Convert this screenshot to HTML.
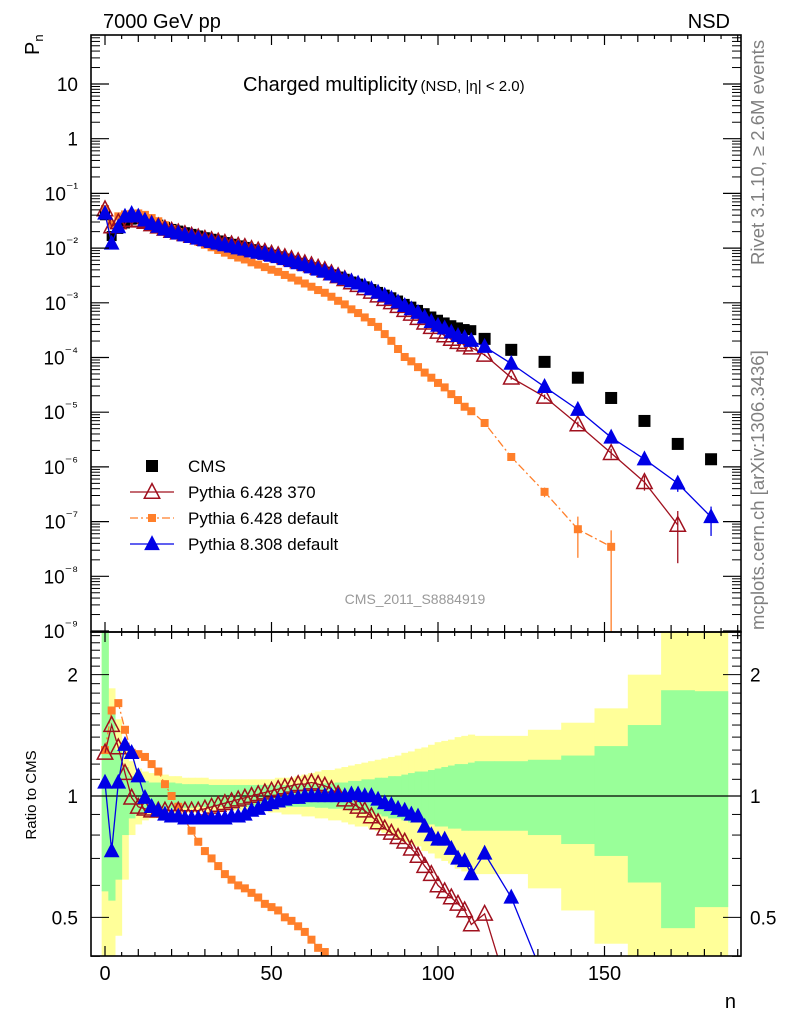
<!DOCTYPE html>
<html><head><meta charset="utf-8"><style>
html,body{margin:0;padding:0;background:#fff;width:786px;height:1024px;overflow:hidden;}
svg{display:block;font-family:"Liberation Sans",sans-serif;}
</style></head><body>
<svg id="chart" width="786" height="1024" viewBox="0 0 786 1024" xmlns="http://www.w3.org/2000/svg">
<defs>
<clipPath id="cm"><rect x="91" y="35" width="650" height="597"/></clipPath>
<clipPath id="cr"><rect x="91" y="632" width="650" height="324"/></clipPath>
</defs>
<g id="bands" clip-path="url(#cr)"></g>
<g id="ratio" clip-path="url(#cr)"></g>
<g id="main" clip-path="url(#cm)"></g>
<g id="axes"></g>
<text x="103" y="28" font-size="20">7000 GeV pp</text>
<text x="730" y="28" font-size="20" text-anchor="end">NSD</text>
<text transform="translate(39,55) rotate(-90)" font-size="20">P<tspan font-size="13" dy="4">n</tspan></text>
<text x="243" y="91" font-size="20">Charged multiplicity<tspan font-size="15" dx="3">(NSD, |η| &lt; 2.0)</tspan></text>
<text transform="translate(764,265) rotate(-90)" font-size="18.5" fill="#808080">Rivet 3.1.10, ≥ 2.6M events</text>
<text transform="translate(764,630) rotate(-90)" font-size="18.5" fill="#808080">mcplots.cern.ch [arXiv:1306.3436]</text>
<text x="415" y="604" font-size="14" fill="#999" text-anchor="middle">CMS_2011_S8884919</text>
<text transform="translate(36,795) rotate(-90)" font-size="15" text-anchor="middle">Ratio to CMS</text>
<text x="736" y="1008" font-size="20" text-anchor="end">n</text>
<g id="legend"></g>
</svg>
<script>
const nVals=[0,2,4,6,8,10,12,14,16,18,20,22,24,26,28,30,32,34,36,38,40,42,44,46,48,50,52,54,56,58,60,62,64,66,68,70,72,74,76,78,80,82,84,86,88,90,92,94,96,98,100,102,104,106,108,110,114,122,132,142,152,162,172,182];
const binEdges=[111,117,127,137,147,157,167,177,187];
const cmsPn=[3.98e-2,1.66e-2,2.24e-2,2.82e-2,3.31e-2,3.39e-2,3.24e-2,2.95e-2,2.69e-2,2.45e-2,2.24e-2,2.09e-2,1.95e-2,1.82e-2,1.70e-2,1.58e-2,1.48e-2,1.38e-2,1.29e-2,1.20e-2,1.12e-2,1.05e-2,9.55e-3,8.91e-3,8.32e-3,7.59e-3,7.08e-3,6.46e-3,5.89e-3,5.37e-3,4.90e-3,4.47e-3,4.07e-3,3.72e-3,3.31e-3,3.02e-3,2.75e-3,2.45e-3,2.24e-3,2.00e-3,1.78e-3,1.58e-3,1.41e-3,1.26e-3,1.10e-3,9.55e-4,8.51e-4,7.41e-4,6.46e-4,5.62e-4,4.90e-4,4.37e-4,3.89e-4,3.55e-4,3.31e-4,3.16e-4,2.19e-4,1.38e-4,8.32e-5,4.27e-5,1.82e-5,6.92e-6,2.63e-6,1.38e-6];
const ratioPy6370=[1.28,1.50,1.32,1.14,0.99,0.94,0.93,0.92,0.92,0.92,0.92,0.92,0.92,0.92,0.92,0.93,0.94,0.95,0.96,0.97,0.98,0.99,1.0,1.01,1.02,1.03,1.04,1.05,1.06,1.07,1.07,1.08,1.07,1.06,1.04,1.01,0.98,0.96,0.94,0.92,0.89,0.86,0.83,0.81,0.79,0.77,0.74,0.71,0.67,0.64,0.60,0.58,0.56,0.54,0.52,0.48,0.51,0.31,0.23,0.14,0.098,0.076,0.033,null];
const ratioPy6def=[1.30,1.63,1.70,1.46,1.28,1.27,1.25,1.20,1.15,1.07,1.0,0.94,0.87,0.82,0.77,0.73,0.70,0.67,0.64,0.62,0.60,0.59,0.575,0.56,0.54,0.53,0.52,0.50,0.49,0.475,0.46,0.44,0.42,0.41,0.39,0.36,0.34,0.31,0.29,0.27,0.25,0.23,0.19,0.16,0.13,0.107,0.10,0.09,0.082,0.076,0.07,0.065,0.055,0.047,0.038,0.033,0.029,0.011,0.0042,0.0017,0.0019,null,null,null];
const ratioPy8def=[1.08,0.73,1.08,1.34,1.28,1.12,0.99,0.94,0.92,0.90,0.89,0.89,0.88,0.88,0.88,0.88,0.88,0.88,0.88,0.89,0.89,0.90,0.92,0.93,0.95,0.96,0.97,0.98,0.99,0.99,1.0,1.0,1.0,1.0,1.0,1.0,1.0,1.01,1.01,1.0,1.0,0.98,0.96,0.95,0.93,0.92,0.90,0.89,0.84,0.80,0.78,0.78,0.74,0.70,0.69,0.64,0.72,0.56,0.35,0.26,0.19,0.20,0.19,0.088];
const errPy6370=[0.05,0.08,0.1,0.12,0.2,0.3,0.8];
const errPy6def=[0.08,0.15,0.2,0.7,1.0];
const errPy8def=[0.05,0.07,0.1,0.12,0.15,0.2,0.3,0.55];
const greenUp=[2.55,1.6,1.3,1.18,1.12,1.10,1.09,1.08,1.08,1.08,1.08,1.075,1.07,1.07,1.07,1.07,1.065,1.065,1.065,1.065,1.065,1.065,1.065,1.065,1.065,1.065,1.065,1.065,1.065,1.07,1.07,1.07,1.07,1.075,1.075,1.08,1.08,1.09,1.09,1.10,1.10,1.11,1.11,1.12,1.12,1.13,1.14,1.15,1.15,1.16,1.17,1.18,1.19,1.20,1.20,1.21,1.22,1.22,1.23,1.26,1.33,1.50,1.83,1.82];
const greenLo=[0.58,0.55,0.62,0.80,0.88,0.90,0.91,0.92,0.93,0.93,0.93,0.93,0.935,0.935,0.94,0.94,0.94,0.94,0.94,0.94,0.94,0.94,0.94,0.94,0.94,0.94,0.94,0.94,0.94,0.94,0.94,0.94,0.935,0.935,0.93,0.93,0.93,0.92,0.92,0.91,0.91,0.90,0.89,0.88,0.88,0.87,0.86,0.86,0.85,0.85,0.84,0.84,0.83,0.83,0.82,0.82,0.82,0.82,0.80,0.76,0.71,0.61,0.47,0.53];
const yellowUp=[2.55,1.85,1.55,1.35,1.22,1.17,1.15,1.14,1.13,1.13,1.12,1.12,1.11,1.11,1.11,1.11,1.10,1.10,1.10,1.10,1.10,1.10,1.10,1.10,1.10,1.10,1.11,1.11,1.11,1.12,1.13,1.14,1.15,1.16,1.16,1.17,1.18,1.19,1.20,1.21,1.22,1.23,1.24,1.25,1.26,1.28,1.29,1.31,1.32,1.34,1.36,1.37,1.38,1.40,1.41,1.42,1.41,1.41,1.46,1.52,1.65,2.0,3,3];
const yellowLo=[0.35,0.35,0.45,0.62,0.80,0.85,0.87,0.88,0.89,0.90,0.90,0.90,0.91,0.91,0.91,0.91,0.91,0.91,0.92,0.92,0.92,0.92,0.92,0.92,0.92,0.91,0.91,0.90,0.90,0.90,0.89,0.89,0.88,0.88,0.87,0.87,0.86,0.85,0.84,0.84,0.83,0.82,0.81,0.80,0.78,0.77,0.76,0.75,0.73,0.72,0.70,0.69,0.68,0.66,0.65,0.64,0.64,0.64,0.59,0.52,0.43,0.30,0.30,0.30];
const decadeLabels=["10","1","10⁻¹","10⁻²","10⁻³","10⁻⁴","10⁻⁵","10⁻⁶","10⁻⁷","10⁻⁸","10⁻⁹"];
const xTickLabels=[0,50,100,150];
const ratioTickLabels=[2,1,0.5];

const NS="http://www.w3.org/2000/svg";
const X=n=>105+n*3.33;
const YM=p=>84+(1-Math.log10(p))*54.7;
const YR=r=>796-403*Math.log10(r);
function mk(parent,tag,attrs){const e=document.createElementNS(NS,tag);for(const k in attrs)e.setAttribute(k,attrs[k]);parent.appendChild(e);return e;}
const gM=document.getElementById('main'),gR=document.getElementById('ratio'),gB=document.getElementById('bands'),gA=document.getElementById('axes'),gL=document.getElementById('legend');
const nDense=nVals.length-8;
function binLo(i){return i<nDense?nVals[i]-1:binEdges[i-nDense];}
function binHi(i){return i<nDense?nVals[i]+1:binEdges[i-nDense+1];}

[[yellowUp,yellowLo,'#ffff99','yellow-band'],[greenUp,greenLo,'#99ff99','green-band']].forEach(([u,l,c,nm])=>{
  for(let i=0;i<nVals.length;i++){
    const y1=YR(Math.min(u[i],3)),y2=YR(Math.max(l[i],0.3));
    const r=mk(gB,'rect',{x:X(binLo(i)),y:y1,width:X(binHi(i))-X(binLo(i))+0.5,height:y2-y1,fill:c});
    
    
  }
});
const ref=mk(gR,'line',{x1:91,x2:741,y1:YR(1),y2:YR(1),stroke:'#000','stroke-width':1.2});



function tri(g,x,y,s,color,filled,nm){
  const p=mk(g,'polygon',{points:`${x},${y-s*0.6} ${x-s*0.55},${y+s*0.45} ${x+s*0.55},${y+s*0.45}`,fill:filled?color:'none',stroke:color,'stroke-width':1.5});
  
  
}
function sq(g,x,y,s,color,nm){
  const r=mk(g,'rect',{x:x-s/2,y:y-s/2,width:s,height:s,fill:color});
  
  
}
const series=[
 {r:ratioPy6def,c:'#ff7f2a',type:'sq',dash:'8,3,2,3',err:errPy6def,nm:'pythia6-default'},
 {r:ratioPy6370,c:'#a0101e',type:'otri',dash:null,err:errPy6370,nm:'pythia6-370'},
 {r:ratioPy8def,c:'#0000e6',type:'tri',dash:null,err:errPy8def,nm:'pythia8-default'}
];
for(let i=0;i<nVals.length;i++){sq(gM,X(nVals[i]),YM(cmsPn[i]),i<nDense?10:12,'#000','cms-point');}
series.forEach(s=>{
  let ptsM=[],ptsR=[];
  for(let i=0;i<nVals.length;i++){if(s.r[i]==null)continue;ptsM.push([X(nVals[i]),YM(cmsPn[i]*s.r[i])]);ptsR.push([X(nVals[i]),YR(s.r[i])]);}
  [[gM,ptsM,'main'],[gR,ptsR,'ratio']].forEach(([g,pts,w])=>{
    const pl=mk(g,'polyline',{points:pts.map(p=>p.join(',')).join(' '),fill:'none',stroke:s.c,'stroke-width':1.3});
    if(s.dash)pl.setAttribute('stroke-dasharray',s.dash);
    
    
  });
  let k=0;
  for(let i=nDense;i<nVals.length;i++){if(s.r[i]==null)continue;const p=cmsPn[i]*s.r[i],e=s.err[k++];
    const lo=p*(1-e)>0?YM(p*(1-e)):640;
    const el=mk(gM,'line',{x1:X(nVals[i]),x2:X(nVals[i]),y1:YM(p*(1+e)),y2:lo,stroke:s.c,'stroke-width':1.3});
    
    
  }
  for(let i=0;i<nVals.length;i++){if(s.r[i]==null)continue;
    [[gM,YM(cmsPn[i]*s.r[i])],[gR,YR(s.r[i])]].forEach(([g,y])=>{
      const x=X(nVals[i]);
      if(s.type==='sq')sq(g,x,y,8,s.c,s.nm+'-point');
      else tri(g,x,y,s.type==='tri'?12:14,s.c,s.type==='tri',s.nm+'-point');
    });
  }
});

[[35,597],[632,324]].forEach(([y,h],j)=>{const r=mk(gA,'rect',{x:91,y:y,width:650,height:h,fill:'none',stroke:'#000','stroke-width':1.6});
 
 });
for(let v=-0;v<=190;v+=5){const x=X(v),maj=v%50===0,mid=v%10===0;
  [[35,1],[632,-1],[632,1],[956,-1]].forEach(([y0,d])=>{const L=maj?10:(mid?7:4);
    mk(gA,'line',{x1:x,x2:x,y1:y0,y2:y0+d*L,stroke:'#000','stroke-width':1.2});});
}
xTickLabels.forEach(v=>{const t=mk(gA,'text',{x:X(v),y:980,'font-size':20,'text-anchor':'middle'});t.textContent=v;
 
 });
decadeLabels.forEach((lab,j)=>{const dec=1-j;const y=YM(Math.pow(10,dec));
  [[91,1],[741,-1]].forEach(([x0,d])=>mk(gA,'line',{x1:x0,x2:x0+d*18,y1:y,y2:y,stroke:'#000','stroke-width':1.2}));
  const t=mk(gA,'text',{x:78,y:y+7,'font-size':19,'text-anchor':'end'});
  if(lab.length>2&&lab!=="10"){t.textContent='10';const ts=mk(t,'tspan',{dy:-8,'font-size':14});ts.textContent=lab.slice(2);}else t.textContent=lab;
  
  
});
for(let dec=-10;dec<=1;dec++)for(let m=2;m<=9;m++){const y=YM(m*Math.pow(10,dec));if(y<35||y>632)continue;
  [[91,1],[741,-1]].forEach(([x0,d])=>mk(gA,'line',{x1:x0,x2:x0+d*9,y1:y,y2:y,stroke:'#000','stroke-width':1}));}
[0.4,0.5,0.6,0.7,0.8,0.9,1,1.1,1.2,1.3,1.4,1.5,1.6,1.7,1.8,1.9,2,2.1,2.2,2.3,2.4,2.5].forEach(v=>{const y=YR(v),maj=(v===0.5||v===1||v===2);
  [[91,1],[741,-1]].forEach(([x0,d])=>mk(gA,'line',{x1:x0,x2:x0+d*(maj?18:9),y1:y,y2:y,stroke:'#000','stroke-width':1}));});
ratioTickLabels.forEach(v=>{[[78,'end'],[750,'start']].forEach(([x,a])=>{const t=mk(gA,'text',{x:x,y:YR(v)+7,'font-size':19,'text-anchor':a});t.textContent=v;
 
 });});

const legItems=[['CMS','cms'],['Pythia 6.428 370','otri'],['Pythia 6.428 default','sq'],['Pythia 8.308 default','tri']];
const legColors=['#000','#a0101e','#ff7f2a','#0000e6'];
legItems.forEach(([lab,tp],j)=>{const y=466+j*26;const c=legColors[j];
  const g=mk(gL,'g',{});
  
  
  if(tp==='cms')sq(g,152,y,12,c,'legend-marker');
  else{const l=mk(g,'line',{x1:130,x2:174,y1:y,y2:y,stroke:c,'stroke-width':1.3});if(tp==='sq')l.setAttribute('stroke-dasharray','8,3,2,3');
    if(tp==='sq')sq(g,152,y,8,c,'legend-marker');else tri(g,152,y,tp==='tri'?12:14,c,tp==='tri','legend-marker');}
  const t=mk(g,'text',{x:188,y:y+6,'font-size':17});t.textContent=lab;
});
</script>
</body></html>
